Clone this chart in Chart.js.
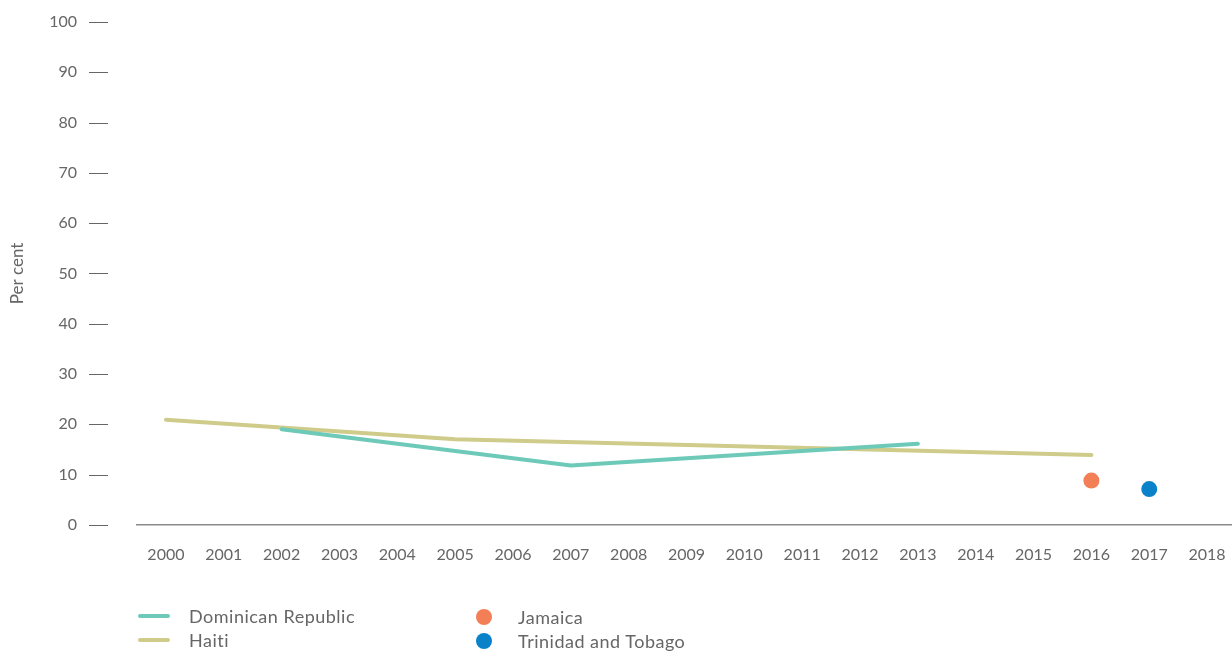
<!DOCTYPE html>
<html>
<head>
<meta charset="utf-8">
<script src="https://cdn.jsdelivr.net/npm/chart.js@4/dist/chart.umd.min.js"></script>
<style>
  html, body { margin: 0; padding: 0; background: #fff; overflow: hidden; }
  #wrap { position: relative; width: 1232px; height: 652px; overflow: hidden; }
  #box { position: absolute; left: 0; top: 0; width: 1244px; height: 652px; }
  .legend { position: absolute; left: 0; top: 0; font-family: Lato, "Open Sans", sans-serif; font-size: 18px; letter-spacing: 0.5px; color: #666666; }
  .item { position: absolute; white-space: nowrap; height: 24px; line-height: 24px; }
  .line { position: absolute; left: 0; top: 10px; width: 32px; height: 4px; border-radius: 2px; }
  .dot { position: absolute; left: 0; top: 4px; width: 16px; height: 16px; border-radius: 50%; }
</style>
</head>
<body>
<div id="wrap">
  <div id="box"><canvas id="c"></canvas></div>
  <div id="legend" class="legend"></div>
</div>
<script>
const years = ["2000","2001","2002","2003","2004","2005","2006","2007","2008","2009","2010","2011","2012","2013","2014","2015","2016","2017","2018"];
const dominicanRepublic = [null, null, 19.0, null, null, null, null, 11.8, null, null, null, null, null, 16.1, null, null, null, null, null];
const haiti = [20.9, null, null, null, null, 17.0, null, null, null, null, null, null, null, null, null, null, 13.9, null, null];
const jamaica = [null, null, null, null, null, null, null, null, null, null, null, null, null, null, null, null, 8.8, null, null];
const trinidadAndTobago = [null, null, null, null, null, null, null, null, null, null, null, null, null, null, null, null, null, 7.1, null];
const yTicks = [0, 10, 20, 30, 40, 50, 60, 70, 80, 90, 100];

const FONT = 'Lato, "Open Sans", sans-serif';
const GREY = '#666666';

const tickMarks = {
  id: 'tickMarks',
  afterDraw(chart) {
    const y = chart.scales.y;
    const ctx = chart.ctx;
    ctx.save();
    ctx.strokeStyle = GREY;
    ctx.lineWidth = 1;
    y.ticks.forEach((t, i) => {
      const py = Math.round(y.getPixelForTick(i)) + 0.5;
      ctx.beginPath();
      ctx.moveTo(89, py);
      ctx.lineTo(108, py);
      ctx.stroke();
    });
    ctx.restore();
  }
};

const chart = new Chart(document.getElementById('c'), {
  type: 'line',
  data: {
    labels: years,
    datasets: [
      { label: 'Dominican Republic', data: dominicanRepublic, borderColor: '#6dc9b8', backgroundColor: '#6dc9b8', borderWidth: 4, pointRadius: 0, spanGaps: true, borderCapStyle: 'round', tension: 0, kind: 'line' },
      { label: 'Haiti', data: haiti, borderColor: '#cfcb8a', backgroundColor: '#cfcb8a', borderWidth: 4, pointRadius: 0, spanGaps: true, borderCapStyle: 'round', tension: 0, kind: 'line' },
      { label: 'Jamaica', data: jamaica, borderColor: '#f37f57', backgroundColor: '#f37f57', showLine: false, pointRadius: 8, pointHoverRadius: 8, pointBorderWidth: 0, kind: 'dot' },
      { label: 'Trinidad and Tobago', data: trinidadAndTobago, borderColor: '#0a82c9', backgroundColor: '#0a82c9', showLine: false, pointRadius: 8, pointHoverRadius: 8, pointBorderWidth: 0, kind: 'dot' }
    ]
  },
  options: {
    responsive: true,
    maintainAspectRatio: false,
    animation: false,
    layout: { padding: { top: 22, right: 1, bottom: 86, left: 0 } },
    plugins: { legend: { display: false }, tooltip: { enabled: false } },
    scales: {
      x: {
        offset: true,
        grid: { display: true, drawOnChartArea: false, drawTicks: true, tickLength: 18, tickColor: 'rgba(0,0,0,0)' },
        border: { display: true, color: '#8a8a8a', width: 1.5 },
        ticks: { color: GREY, font: { family: FONT, size: 16 }, padding: 2, maxRotation: 0, autoSkip: false }
      },
      y: {
        min: 0, max: 100,
        afterFit(scale) { scale.width = 137; },
        afterBuildTicks(scale) { scale.ticks = yTicks.map(v => ({ value: v })); },
        grid: { display: true, drawOnChartArea: false, drawTicks: true, tickLength: 57, tickColor: 'rgba(0,0,0,0)' },
        border: { display: false },
        ticks: { color: GREY, font: { family: FONT, size: 16 }, padding: 3 },
        title: { display: true, text: 'Per cent', color: GREY, font: { family: FONT, size: 17 }, padding: { top: 7, bottom: 0 } }
      }
    }
  },
  plugins: [tickMarks]
});

// HTML legend built from datasets
const legend = document.getElementById('legend');
const positions = [
  { x: 138, y: 604 }, { x: 138, y: 628 }, { x: 476, y: 605 }, { x: 476, y: 629 }
];
chart.data.datasets.forEach((ds, i) => {
  const item = document.createElement('div');
  item.className = 'item';
  item.style.left = positions[i].x + 'px';
  item.style.top = positions[i].y + 'px';
  const sym = document.createElement('span');
  sym.className = ds.kind === 'line' ? 'line' : 'dot';
  sym.style.background = ds.borderColor;
  const txt = document.createElement('span');
  txt.textContent = ds.label;
  txt.style.marginLeft = ds.kind === 'line' ? '51px' : '42px';
  item.appendChild(sym);
  item.appendChild(txt);
  legend.appendChild(item);
});
</script>
</body>
</html>
